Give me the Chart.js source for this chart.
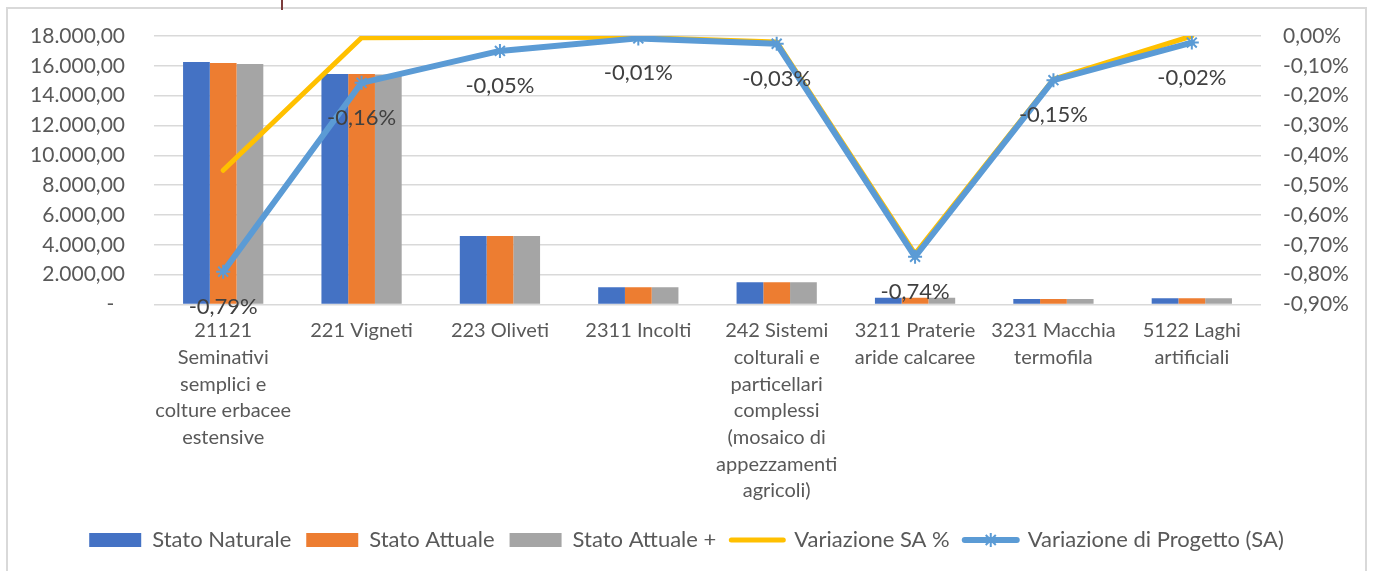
<!DOCTYPE html>
<html><head><meta charset="utf-8">
<script src="https://cdn.jsdelivr.net/npm/chart.js@4.4.1/dist/chart.umd.min.js"></script>
<style>
html,body{margin:0;padding:0;background:#fff;}
#wrap{position:relative;width:1373px;height:571px;overflow:hidden;}
#frame{position:absolute;left:6px;top:7px;width:1361px;height:600px;border:2px solid #d9d9d9;box-sizing:border-box;}
#mark{position:absolute;left:281px;top:0;width:2px;height:10px;background:#7b3b3b;}
canvas{position:absolute;left:0;top:0;}
</style></head><body>
<div id="wrap"><div id="frame"></div><div id="mark"></div><canvas id="c" width="1373" height="571"></canvas></div>
<script>
const categories = [
  ["21121","Seminativi","semplici e","colture erbacee","estensive"],
  ["221 Vigneti"],
  ["223 Oliveti"],
  ["2311 Incolti"],
  ["242 Sistemi","colturali e","particellari","complessi","(mosaico di","appezzamenti","agricoli)"],
  ["3211 Praterie","aride calcaree"],
  ["3231 Macchia","termofila"],
  ["5122 Laghi","artificiali"]
];
const seriesNames = ["Stato Naturale","Stato Attuale","Stato Attuale +","Variazione SA %","Variazione di Progetto (SA)"];
const statoNaturale    = [16260, 15450, 4590, 1150, 1490, 460, 365, 415];
const statoAttuale     = [16190, 15450, 4588, 1150, 1490, 455, 363, 415];
const statoAttualePlus = [16120, 15425, 4586, 1150, 1488, 452, 362, 415];
const variazioneSA       = [-0.45, -0.006, -0.004, -0.005, -0.02, -0.73, -0.145, 0.0];
const variazioneProgetto = [-0.79, -0.157, -0.05, -0.008, -0.026, -0.74, -0.148, -0.022];
const leftTicks = {min: 0, max: 18000, step: 2000};
const rightTicks = {min: -0.9, max: 0, step: 0.1};

const FONT = 'Lato, "Open Sans", sans-serif';
Chart.defaults.font.family = FONT;
Chart.defaults.font.size = 20;
Chart.defaults.color = '#595959';

const fmtNum = v => {
  if (Math.abs(v) < 1e-9) return '-  ';
  const s = v.toFixed(2).split('.');
  return s[0].replace(/\B(?=(\d{3})+(?!\d))/g, '.') + ',' + s[1];
};
const fmtPct = v => (Math.abs(v) < 1e-9 ? 0 : v).toFixed(2).replace('.', ',') + '%';

const labelPlugin = {
  id: 'dl',
  afterDatasetsDraw(chart) {
    const ctx = chart.ctx;
    const meta = chart.getDatasetMeta(4);
    ctx.save();
    ctx.font = '22px ' + FONT;
    ctx.fillStyle = '#404040';
    ctx.textAlign = 'center';
    ctx.textBaseline = 'middle';
    meta.data.forEach((p, i) => {
      ctx.fillText(fmtPct(chart.data.datasets[4].data[i]), p.x, p.y + 35);
    });
    ctx.restore();
  }
};

const legendStar = {
  id: 'ls',
  afterDraw(chart) {
    const lg = chart.legend;
    if (!lg || !lg.legendHitBoxes) return;
    const idx = lg.legendItems.findIndex(it => it.datasetIndex === 4);
    if (idx < 0) return;
    const hb = lg.legendHitBoxes[idx];
    const cx = hb.left + 26, cy = hb.top + 11, r = 7;
    const ctx = chart.ctx;
    ctx.save();
    ctx.strokeStyle = '#5B9BD5';
    ctx.lineWidth = 2;
    ctx.beginPath();
    ctx.moveTo(cx, cy - r); ctx.lineTo(cx, cy + r);
    const d = r * 0.72;
    ctx.moveTo(cx - d, cy - d); ctx.lineTo(cx + d, cy + d);
    ctx.moveTo(cx - d, cy + d); ctx.lineTo(cx + d, cy - d);
    ctx.stroke();
    ctx.restore();
  }
};

new Chart(document.getElementById('c'), {
  data: {
    labels: categories,
    datasets: [
      {type: 'bar', label: seriesNames[0], data: statoNaturale, backgroundColor: '#4472C4', yAxisID: 'y', order: 3},
      {type: 'bar', label: seriesNames[1], data: statoAttuale, backgroundColor: '#ED7D31', yAxisID: 'y', order: 4},
      {type: 'bar', label: seriesNames[2], data: statoAttualePlus, backgroundColor: '#A5A5A5', yAxisID: 'y', order: 5},
      {type: 'line', label: seriesNames[3], data: variazioneSA, borderColor: '#FFC000', backgroundColor: '#FFC000',
        borderWidth: 5, pointRadius: 0, borderCapStyle: 'round', borderJoinStyle: 'round', yAxisID: 'y1', order: 1},
      {type: 'line', label: seriesNames[4], data: variazioneProgetto, borderColor: '#5B9BD5', backgroundColor: '#5B9BD5',
        borderWidth: 6, pointStyle: 'star', pointRadius: 7, pointBorderWidth: 2, pointBorderColor: '#5B9BD5',
        borderCapStyle: 'round', borderJoinStyle: 'round', yAxisID: 'y1', order: 0}
    ]
  },
  options: {
    responsive: false,
    animation: false,
    layout: {padding: {top: 36, bottom: 10, left: 0, right: 0}},
    datasets: {bar: {categoryPercentage: 0.58, barPercentage: 1.0}},
    scales: {
      x: {
        grid: {display: false, drawTicks: false},
        border: {display: false},
        ticks: {padding: 13, maxRotation: 0, minRotation: 0, autoSkip: false, color: '#595959', font: {size: 20, lineHeight: 1.333}},
        afterFit: s => { s.height = 209.5; }
      },
      y: {
        position: 'left', min: leftTicks.min, max: leftTicks.max,
        grid: {color: '#d9d9d9', lineWidth: 1.5, drawTicks: false},
        border: {display: false},
        ticks: {stepSize: leftTicks.step, padding: 29, color: '#595959', font: {size: 21}, callback: v => fmtNum(v)},
        afterFit: s => { s.width = 154; s.paddingTop = 0; s.paddingBottom = 0; }
      },
      y1: {
        position: 'right', min: rightTicks.min, max: rightTicks.max,
        grid: {display: false, drawTicks: false},
        border: {display: false},
        ticks: {stepSize: rightTicks.step, padding: 22, color: '#595959', font: {size: 21}, callback: v => fmtPct(v)},
        afterFit: s => { s.width = 112; s.paddingTop = 0; s.paddingBottom = 0; }
      }
    },
    plugins: {
      tooltip: {enabled: false},
      legend: {
        position: 'bottom',
        labels: {
          usePointStyle: true, pointStyleWidth: 52, boxHeight: 14, padding: 15,
          color: '#595959', font: {size: 22},
          sort: (a, b) => a.datasetIndex - b.datasetIndex,
          generateLabels: chart => {
            const items = Chart.defaults.plugins.legend.labels.generateLabels(chart);
            items.forEach(it => {
              const ds = chart.data.datasets[it.datasetIndex];
              if (ds.type === 'line') {
                it.pointStyle = 'line';
                it.strokeStyle = ds.borderColor;
                it.lineWidth = ds.borderWidth;
                it.lineCap = 'round';
              } else {
                it.pointStyle = 'rect';
                it.lineWidth = 0;
                it.strokeStyle = 'rgba(0,0,0,0)';
              }
            });
            return items;
          }
        }
      }
    }
  },
  plugins: [labelPlugin, legendStar]
});
</script>
</body></html>
